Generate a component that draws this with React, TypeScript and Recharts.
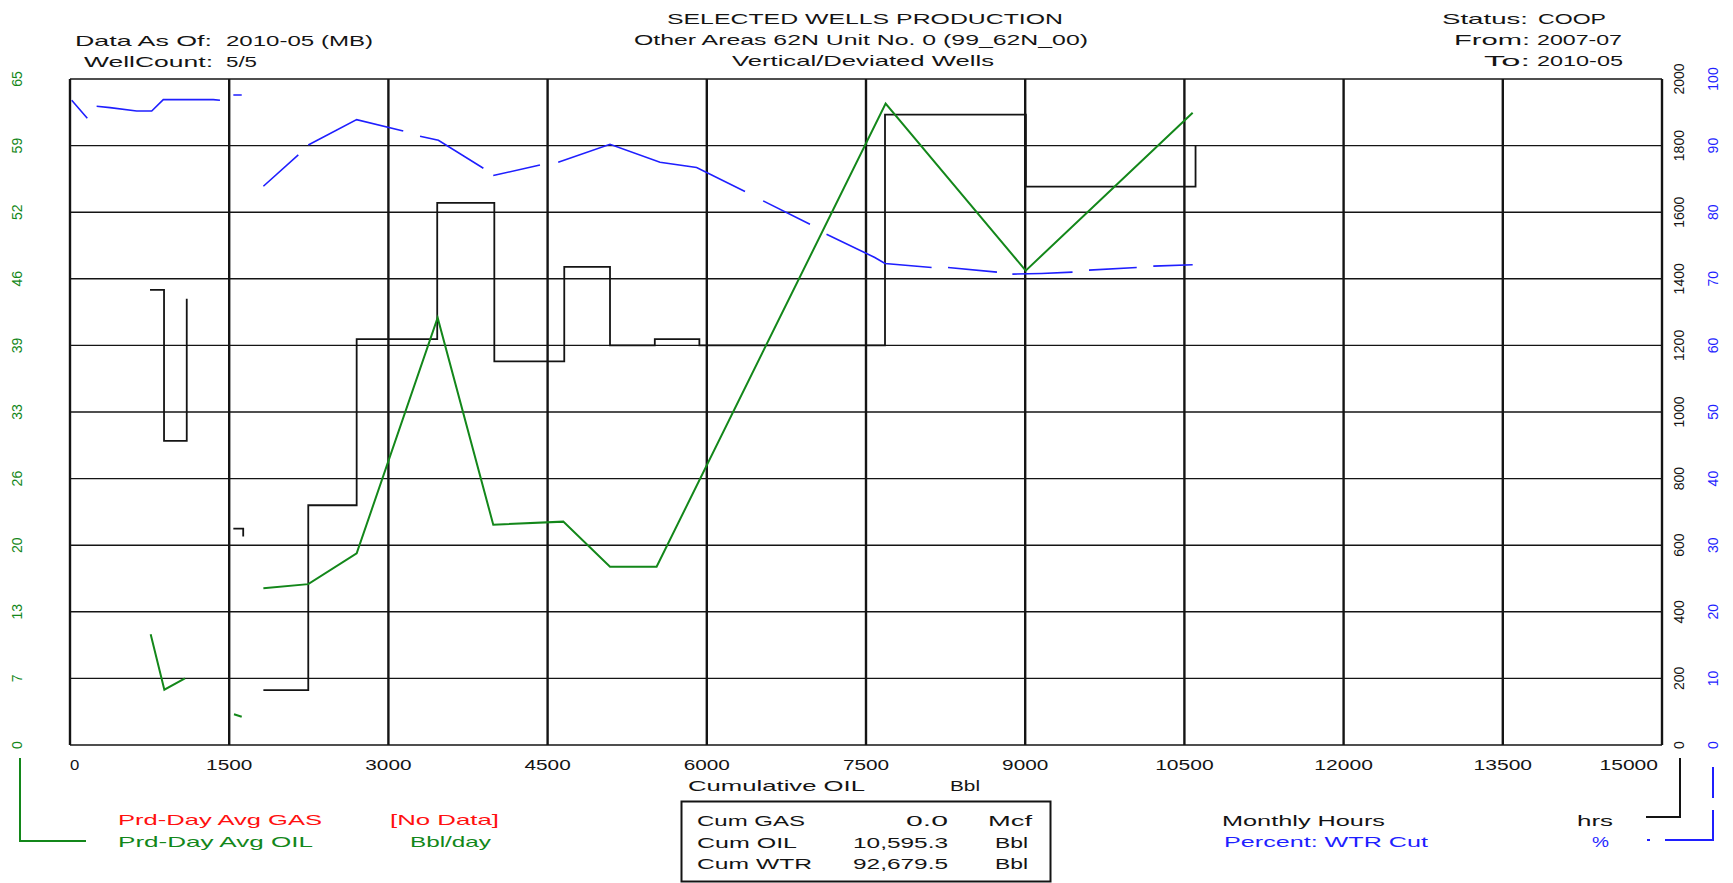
import React from 'react';
import { ComposedChart, Line, XAxis, YAxis, CartesianGrid } from 'recharts';

const W = 1733;
const H = 883;
const FONT = '"Liberation Sans", Arial, sans-serif';
const INK = '#141414';
const GREEN = '#13871a';
const BLUE = '#1f1fff';
const RED = '#ff1010';

// axis ticks
const cumTicks = [0, 1500, 3000, 4500, 6000, 7500, 9000, 10500, 12000, 13500, 15000];
const oilTicks = [0, 6.5, 13, 19.5, 26, 32.5, 39, 45.5, 52, 58.5, 65];
const hrsTicks = [0, 200, 400, 600, 800, 1000, 1200, 1400, 1600, 1800, 2000];
const wcTicks = [0, 10, 20, 30, 40, 50, 60, 70, 80, 90, 100];

// Prd-Day Avg OIL (Bbl/day) vs cumulative oil; null = gap
const oilCum = [760, 889, 1083, 1300, 1545, 1618, 1700, 1822, 2245, 2701, 3464, 3988, 4648, 5088, 5527, 7685, 9005, 10578];
const oilRate = [10.8, 5.4, 6.5, null, 3.0, 2.75, null, 15.3, 15.7, 18.7, 41.7, 21.5, 21.8, 17.4, 17.4, 62.6, 46.3, 61.7];

// Monthly Hours (hrs), stepped
const hrsCum = [754, 886, 1100, 1300, 1539, 1632, 1700, 1822, 2245, 2701, 3460, 3998, 4657, 5088, 5510, 5930, 7679, 9006, 10605];
const hrsVal = [1367, 913, 1340, null, 650, 626, null, 165, 720, 1219, 1628, 1152, 1436, 1200, 1219, 1200, 1893, 1677, 1802];

// Percent: WTR Cut (%)
const wcCum = [
  16, 163, 200, 251, 377, 628, 770, 879, 1350, 1413, 1480, 1539, 1618, 1700, 1822, 2151, 2200,
  2245, 2701, 3140, 3220, 3298, 3471, 3895, 3940, 3988, 4428, 4500, 4600, 5088, 5559, 5904, 6360,
  6450, 6531, 6972, 7050, 7128, 7583, 7679, 8118, 8200, 8273, 8734, 8800, 8879, 9153, 9446, 9520,
  9601, 10051, 10130, 10207, 10578,
];
const wcVal = [
  96.8, 94.1, null, 95.9, 95.7, 95.2, 95.2, 96.9, 96.9, 96.8, null, 97.6, 97.6, null, 83.9, 88.6, null,
  90.1, 93.9, 92.2, null, 91.4, 90.8, 86.6, null, 85.5, 87.1, null, 87.5, 90.2, 87.5, 86.7, 83.1,
  null, 81.7, 78.2, null, 76.7, 73.2, 72.3, 71.7, null, 71.7, 71.0, null, 70.7, 70.8, 71.0, null,
  71.3, 71.7, null, 71.9, 72.1,
];

const pts = (xs: number[], ys: (number | null)[]) => xs.map((x, i) => ({ x, y: ys[i] }));
const oilData = pts(oilCum, oilRate);
const hrsData = pts(hrsCum, hrsVal);
const wcData = pts(wcCum, wcVal);

function T({ x, y, w, a = 'start', fill = INK, size = 15, children }: any) {
  return (
    <text x={x} y={y} textLength={w} lengthAdjust="spacingAndGlyphs" textAnchor={a} fill={fill} fontSize={size} fontFamily={FONT}>
      {children}
    </text>
  );
}

const XTick = ({ x, y, payload }: any) => {
  const v = payload.value;
  const s = String(v);
  const first = v === cumTicks[0];
  const last = v === cumTicks[cumTicks.length - 1];
  return (
    <T x={last ? x - 4 : x} y={y + 23} w={s.length * 12.3 - 3} a={first ? 'start' : last ? 'end' : 'middle'}>
      {s}
    </T>
  );
};

const rotTick = (cx: number, fill: string) => ({ y, payload }: any) => (
  <text transform={`translate(${cx + 5},${y}) rotate(-90)`} textAnchor="middle" fill={fill} fontSize={14} fontFamily={FONT}>
    {Math.round(payload.value)}
  </text>
);

export default function App() {
  return (
    <div style={{ position: 'absolute', left: 0, top: 0, width: W, height: H, background: '#fff' }}>
      <ComposedChart width={W} height={H} margin={{ top: 79, right: 0, bottom: 108, left: 0 }}>
        <CartesianGrid yAxisId="oil" vertical={false} stroke={INK} strokeWidth={1.4} />
        <CartesianGrid yAxisId="oil" horizontal={false} stroke={INK} strokeWidth={2.4} />
        <XAxis dataKey="x" type="number" domain={[0, 15000]} ticks={cumTicks} interval={0} allowDataOverflow
          axisLine={false} tickLine={false} tickSize={0} height={30} tick={<XTick />} />
        <YAxis yAxisId="oil" orientation="left" type="number" width={70} domain={[0, 65]} ticks={oilTicks} interval={0}
          axisLine={false} tickLine={false} tickSize={0} tick={rotTick(17, GREEN)} />
        <YAxis yAxisId="hrs" orientation="right" type="number" width={35} domain={[0, 2000]} ticks={hrsTicks} interval={0}
          axisLine={false} tickLine={false} tickSize={0} tick={rotTick(1679, INK)} />
        <YAxis yAxisId="wc" orientation="right" type="number" width={36} domain={[0, 100]} ticks={wcTicks} interval={0}
          axisLine={false} tickLine={false} tickSize={0} tick={rotTick(1713, BLUE)} />
        <Line yAxisId="hrs" data={hrsData} dataKey="y" type="stepAfter" stroke={INK} strokeWidth={1.8}
          dot={false} connectNulls={false} isAnimationActive={false} />
        <Line yAxisId="wc" data={wcData} dataKey="y" type="linear" stroke={BLUE} strokeWidth={1.6}
          dot={false} connectNulls={false} isAnimationActive={false} />
        <Line yAxisId="oil" data={oilData} dataKey="y" type="linear" stroke={GREEN} strokeWidth={2}
          dot={false} connectNulls={false} isAnimationActive={false} />
      </ComposedChart>

      <svg width={W} height={H} style={{ position: 'absolute', left: 0, top: 0, pointerEvents: 'none' }}>
        <T x={865} y={24} w={396} a="middle">SELECTED WELLS PRODUCTION</T>
        <T x={861} y={45} w={454} a="middle">Other Areas 62N Unit No. 0 (99_62N_00)</T>
        <T x={863} y={66} w={262} a="middle">Vertical/Deviated Wells</T>

        <T x={212} y={46} w={137} a="end">Data As Of:</T>
        <T x={226} y={46} w={147}>2010-05 (MB)</T>
        <T x={213} y={67} w={129} a="end">WellCount:</T>
        <T x={226} y={67} w={31}>5/5</T>

        <T x={1528} y={24} w={86} a="end">Status:</T>
        <T x={1538} y={24} w={68}>COOP</T>
        <T x={1530} y={45} w={76} a="end">From:</T>
        <T x={1537} y={45} w={85}>2007-07</T>
        <T x={1530} y={66} w={46} a="end">To:</T>
        <T x={1537} y={66} w={86}>2010-05</T>

        <T x={688} y={791} w={177}>Cumulative OIL</T>
        <T x={950} y={791} w={30}>Bbl</T>

        <rect x={681.5} y={801.5} width={369} height={80} fill="none" stroke={INK} strokeWidth={2} />
        <T x={697} y={826} w={108}>Cum GAS</T>
        <T x={948} y={826} w={42} a="end">0.0</T>
        <T x={988} y={826} w={44}>Mcf</T>
        <T x={697} y={848} w={100}>Cum OIL</T>
        <T x={948} y={848} w={95} a="end">10,595.3</T>
        <T x={995} y={848} w={33}>Bbl</T>
        <T x={697} y={869} w={115}>Cum WTR</T>
        <T x={948} y={869} w={95} a="end">92,679.5</T>
        <T x={995} y={869} w={33}>Bbl</T>

        <T x={118} y={825} w={204} fill={RED}>Prd-Day Avg GAS</T>
        <T x={390} y={825} w={109} fill={RED}>[No Data]</T>
        <T x={118} y={847} w={195} fill={GREEN}>Prd-Day Avg OIL</T>
        <T x={410} y={847} w={81} fill={GREEN}>Bbl/day</T>
        <polyline points="20,758 20,841 86,841" fill="none" stroke={GREEN} strokeWidth={2} />

        <T x={1222} y={826} w={163}>Monthly Hours</T>
        <T x={1577} y={826} w={36}>hrs</T>
        <T x={1224} y={847} w={204} fill={BLUE}>Percent: WTR Cut</T>
        <T x={1592} y={847} w={17} fill={BLUE}>%</T>
        <polyline points="1646,817 1680,817 1680,758" fill="none" stroke={INK} strokeWidth={2} />
        <line x1={1647} y1={840} x2={1650} y2={840} stroke={BLUE} strokeWidth={2} />
        <polyline points="1665,840 1713,840 1713,810" fill="none" stroke={BLUE} strokeWidth={2} />
        <line x1={1713} y1={798} x2={1713} y2={767} stroke={BLUE} strokeWidth={2} />
      </svg>
    </div>
  );
}
